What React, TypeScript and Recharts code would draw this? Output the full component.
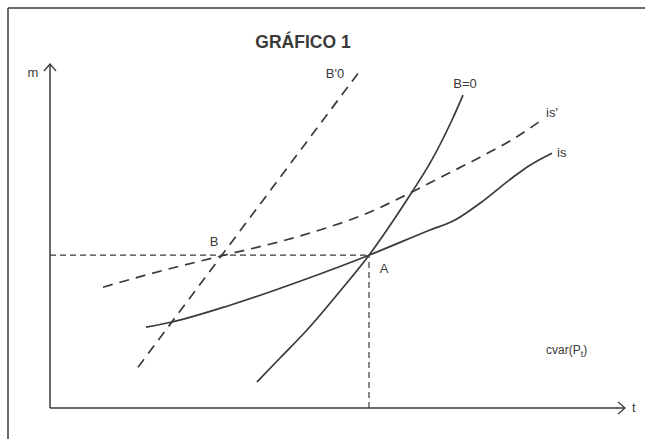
import React from "react";
import { LineChart, Line, XAxis, YAxis, ReferenceLine, ReferenceDot } from "recharts";

// curve points (t on x, m on y)
const isCurve = [
  { t: 19.2, m: 20.2 },
  { t: 24.4, m: 21.5 },
  { t: 36, m: 25.7 },
  { t: 50, m: 31.7 },
  { t: 63.8, m: 38.2 },
  { t: 76, m: 44.5 },
  { t: 81, m: 47 },
  { t: 86, m: 51.2 },
  { t: 92.6, m: 57.7 },
  { t: 96, m: 60.7 },
  { t: 100.4, m: 63.7 },
];

const isPrime = [
  { t: 10.6, m: 30.2 },
  { t: 22, m: 34.2 },
  { t: 34.2, m: 38 },
  { t: 50, m: 43 },
  { t: 64, m: 49 },
  { t: 72.4, m: 54 },
  { t: 77.4, m: 57.2 },
  { t: 86, m: 62.7 },
  { t: 92.6, m: 67.2 },
  { t: 98, m: 71.7 },
];

const bZero = [
  { t: 41.4, m: 6.5 },
  { t: 46, m: 12.5 },
  { t: 51.4, m: 19.5 },
  { t: 58, m: 29.2 },
  { t: 63.8, m: 38.2 },
  { t: 69, m: 47.5 },
  { t: 72.4, m: 54 },
  { t: 76, m: 61.2 },
  { t: 80.4, m: 72 },
  { t: 82.6, m: 78.2 },
];

const bPrimeZero = [
  { t: 17.6, m: 10.2 },
  { t: 62.4, m: 85 },
];

const pointA = { t: 63.8, m: 38.2 };
const pointB = { t: 34.2, m: 38 };
const tDomain = [0, 115];
const mDomain = [0, 86];

const INK = "#3a3a3a";
const FONT = "Liberation Sans, Arial, sans-serif";

const tag =
  (text: string, dx: number, dy: number, anchor = "start") =>
  (props: any) => {
    const vb = props.viewBox || {};
    return (
      <text
        x={vb.x + dx}
        y={vb.y + dy}
        textAnchor={anchor}
        fontFamily={FONT}
        fontSize={13}
        fill={INK}
      >
        {text}
      </text>
    );
  };

const xArrow = (props: any) => {
  const { x, y, width } = props.viewBox;
  const end = x + width;
  return (
    <g>
      <path d={`M${end - 7},${y - 6} L${end},${y} L${end - 7},${y + 6}`} fill="none" stroke={INK} strokeWidth={1.3} />
      <text x={end + 7} y={y + 4} fontFamily={FONT} fontSize={13} fill={INK}>
        t
      </text>
    </g>
  );
};

const yArrow = (props: any) => {
  const { x, y } = props.viewBox;
  return (
    <g>
      <path d={`M${x - 6},${y + 7} L${x},${y} L${x + 6},${y + 7}`} fill="none" stroke={INK} strokeWidth={1.3} />
      <text x={x - 17} y={y + 13} textAnchor="middle" fontFamily={FONT} fontSize={13} fill={INK}>
        m
      </text>
    </g>
  );
};

export default function App() {
  return (
    <div style={{ position: "relative", width: 645, height: 439, overflow: "hidden", background: "#fff" }}>
      <style>{"body{margin:0}"}</style>
      {/* scanned page frame: left and top edges only */}
      <svg width={645} height={439} style={{ position: "absolute", left: 0, top: 0 }}>
        <line x1={8} y1={8} x2={645} y2={8} stroke={INK} strokeWidth={1.5} />
        <line x1={8} y1={8} x2={8} y2={439} stroke={INK} strokeWidth={1.5} />
      </svg>
      <div
        style={{
          position: "absolute",
          left: 0,
          width: 606,
          top: 32,
          textAlign: "center",
          fontFamily: FONT,
          fontWeight: "bold",
          fontSize: 17.5,
          color: INK,
        }}
      >
        GRÁFICO 1
      </div>
      <div
        style={{
          position: "absolute",
          left: 546,
          top: 343,
          fontFamily: FONT,
          fontSize: 12,
          color: INK,
        }}
      >
        cvar(P<sub style={{ fontSize: 9 }}>t</sub>)
      </div>
      <LineChart
        width={645}
        height={439}
        margin={{ top: 64, right: 20, bottom: 31, left: 50 }}
        style={{ position: "absolute", left: 0, top: 0 }}
      >
        <XAxis type="number" dataKey="t" domain={tDomain} allowDataOverflow hide />
        <YAxis type="number" dataKey="m" domain={mDomain} allowDataOverflow hide />
        {/* axes with open arrow heads */}
        <ReferenceLine
          segment={[{ x: tDomain[0], y: mDomain[0] }, { x: tDomain[1], y: mDomain[0] }]}
          stroke={INK}
          strokeWidth={1.5}
          label={{ content: xArrow }}
        />
        <ReferenceLine
          segment={[{ x: tDomain[0], y: mDomain[0] }, { x: tDomain[0], y: mDomain[1] }]}
          stroke={INK}
          strokeWidth={1.5}
          label={{ content: yArrow }}
        />
        <ReferenceLine
          segment={[{ x: 0, y: pointA.m }, { x: pointA.t, y: pointA.m }]}
          stroke={INK}
          strokeWidth={1.2}
          strokeDasharray="6 4"
        />
        <ReferenceLine
          segment={[{ x: pointA.t, y: 0 }, { x: pointA.t, y: pointA.m }]}
          stroke={INK}
          strokeWidth={1.2}
          strokeDasharray="6 4"
        />
        <Line data={isCurve} dataKey="m" type="monotone" stroke={INK} strokeWidth={1.7} dot={false} isAnimationActive={false} />
        <Line data={isPrime} dataKey="m" type="monotone" stroke={INK} strokeWidth={1.7} strokeDasharray="10 7" dot={false} isAnimationActive={false} />
        <Line data={bZero} dataKey="m" type="monotone" stroke={INK} strokeWidth={1.7} dot={false} isAnimationActive={false} />
        <Line data={bPrimeZero} dataKey="m" type="linear" stroke={INK} strokeWidth={1.7} strokeDasharray="10 7" dot={false} isAnimationActive={false} />
        <ReferenceDot x={isCurve[isCurve.length - 1].t} y={isCurve[isCurve.length - 1].m} r={0} fill="none" stroke="none" label={{ content: tag("is", 5, 4) }} />
        <ReferenceDot x={isPrime[isPrime.length - 1].t} y={isPrime[isPrime.length - 1].m} r={0} fill="none" stroke="none" label={{ content: tag("is'", 6, -4) }} />
        <ReferenceDot x={bZero[bZero.length - 1].t} y={bZero[bZero.length - 1].m} r={0} fill="none" stroke="none" label={{ content: tag("B=0", 2, -7, "middle") }} />
        <ReferenceDot x={bPrimeZero[1].t} y={bPrimeZero[1].m} r={0} fill="none" stroke="none" label={{ content: tag("B'0", -27, 10, "middle") }} />
        <ReferenceDot x={pointB.t} y={pointB.m} r={0} fill="none" stroke="none" label={{ content: tag("B", -7, -10, "middle") }} />
        <ReferenceDot x={pointA.t} y={pointA.m} r={0} fill="none" stroke="none" label={{ content: tag("A", 15, 18, "middle") }} />
      </LineChart>
    </div>
  );
}
